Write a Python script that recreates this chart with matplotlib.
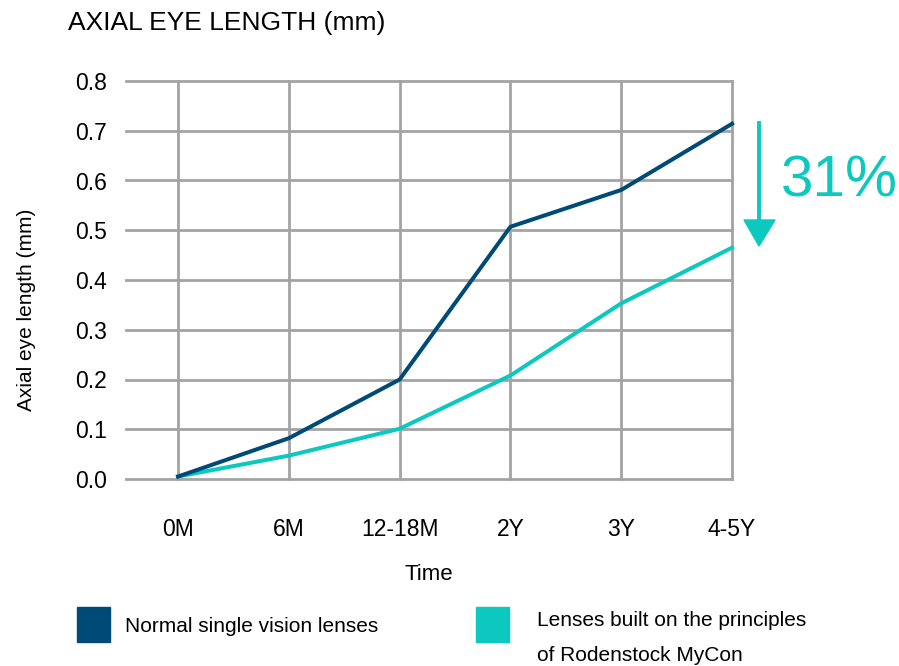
import matplotlib
matplotlib.use('Agg')
import matplotlib.pyplot as plt
from matplotlib.patches import Polygon, Rectangle
import numpy as np

plt.rcParams['font.family'] = ['Liberation Sans Narrow', 'Liberation Sans', 'DejaVu Sans']

# data
categories = ['0M', '6M', '12-18M', '2Y', '3Y', '4-5Y']
normal_sv = [0.005, 0.082, 0.200, 0.507, 0.581, 0.714]
mycon = [0.005, 0.047, 0.101, 0.208, 0.353, 0.465]
series_names = ['Normal single vision lenses',
                'Lenses built on the principles\nof Rodenstock MyCon']
reduction_label = '31%'

DARK = '#004a77'
TEAL = '#0cc8be'
GRID = '#a3a3a3'

W, H = 899, 666
fig = plt.figure(figsize=(W / 100, H / 100), dpi=100)


def px(x, y):
    # pixel position (from top-left) -> figure fraction
    return x / W, 1 - y / H


l, t = px(126, 81)
r, b = px(732, 479)
ax = fig.add_axes([l, b, r - l, t - b])

x = np.arange(len(categories))
ax.plot(x, mycon, color=TEAL, lw=2.9, solid_joinstyle='round', zorder=3, clip_on=False)
ax.plot(x, normal_sv, color=DARK, lw=2.9, solid_joinstyle='round', zorder=4, clip_on=False)

ax.set_xlim(-0.47, 5)
ax.set_ylim(0, 0.8)
ax.set_xticks(x)
ax.set_xticklabels(categories)
ax.set_yticks(np.arange(0, 0.81, 0.1))
ax.set_yticklabels([f'{v:.1f}' for v in np.arange(0, 0.81, 0.1)])
ax.tick_params(length=0, labelsize=16.5)
ax.tick_params(axis='x', pad=28)
ax.tick_params(axis='y', pad=14)
for s in ax.spines.values():
    s.set_visible(False)
ax.grid(True, color=GRID, lw=2.0)
for gl in ax.get_xgridlines() + ax.get_ygridlines():
    gl.set_clip_on(False)
ax.set_axisbelow(True)

ax.set_xlabel('Time', fontsize=16, labelpad=17)
fig.text(*px(27, 310), 'Axial eye length (mm)', fontsize=15, rotation=90,
         ha='center', va='center')

fig.text(*px(68, 23), 'AXIAL EYE LENGTH (mm)', fontsize=19, ha='left', va='center')

# reduction arrow
fig.add_artist(plt.Line2D([px(759, 0)[0]] * 2, [px(0, 123)[1], px(0, 225)[1]],
                          color=TEAL, lw=2.8, transform=fig.transFigure))
fig.add_artist(Polygon([px(744, 220), px(775, 220), px(759, 246)], closed=True,
                       color=TEAL, transform=fig.transFigure))
fig.text(*px(781, 197), reduction_label, fontsize=42, color=TEAL,
         ha='left', va='baseline')

# legend
fig.add_artist(Rectangle(px(77, 642), 33 / W, 35 / H, color=DARK, transform=fig.transFigure))
fig.text(*px(125, 626), series_names[0], fontsize=15, ha='left', va='center')
fig.add_artist(Rectangle(px(476, 642), 33 / W, 35 / H, color=TEAL, transform=fig.transFigure))
fig.text(*px(537, 638), series_names[1], fontsize=15, ha='left', va='center',
         linespacing=2.1)

fig.savefig('out.png', dpi=100)
